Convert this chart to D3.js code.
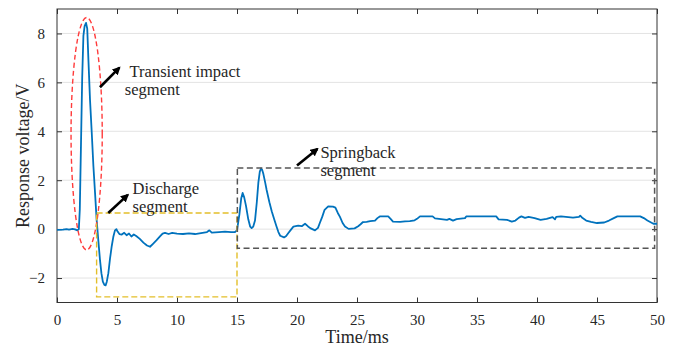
<!DOCTYPE html>
<html>
<head>
<meta charset="utf-8">
<script src="https://cdn.jsdelivr.net/npm/d3@7"></script>
<style>
  html, body { margin: 0; padding: 0; background: #fff; }
  svg { display: block; }
  svg text { font-family: "Liberation Serif", "DejaVu Serif", serif !important; fill: #262626; }
</style>
</head>
<body>
<svg id="chart" width="677" height="349"></svg>
<script>
// ---- data ----
const timeMs = [
  0, 0.5, 0.8, 1.0, 1.3, 1.5, 1.7, 1.82, 1.9, 2.0, 2.1, 2.2, 2.3, 2.42, 2.52, 2.62, 2.75, 2.9, 3.03, 3.18,
  3.3, 3.45, 3.58, 3.7, 3.82, 3.95, 4.05, 4.15, 4.28, 4.42, 4.56, 4.7, 4.83, 4.95, 5.05, 5.2, 5.4, 5.6, 5.8, 6.0,
  6.2, 6.4, 6.6, 6.9, 7.2, 7.5, 7.75, 8.0, 8.3, 8.58, 8.8, 9.0, 9.3, 9.6, 10.0, 10.5, 11.0, 11.5, 12.0, 12.5,
  12.7, 12.9, 13.5, 14.0, 14.5, 14.83, 15.0, 15.2, 15.35, 15.47, 15.6, 15.75, 15.94, 16.1, 16.22, 16.35, 16.5, 16.65, 16.78, 16.9,
  17.0, 17.1, 17.2, 17.35, 17.47, 17.7, 17.9, 18.1, 18.3, 18.45, 18.6, 18.92, 19.1, 19.28, 19.5, 19.7, 20.1, 20.4, 20.67, 20.9,
  21.1, 21.5, 21.75, 21.9, 22.1, 22.3, 22.6, 23.0, 23.2, 23.4, 23.58, 23.8, 24.0, 24.3, 24.8, 25.1, 25.3, 25.5, 25.8, 26.1,
  26.5, 26.7, 26.9, 27.6, 27.8, 28.0, 28.6, 29.0, 29.4, 29.8, 30.0, 30.25, 31.3, 31.5, 32.0, 32.5, 32.7, 33.0, 33.3, 34.0,
  34.1, 36.6, 36.8, 37.5, 37.9, 38.2, 38.5, 38.7, 39.0, 39.3, 39.8, 40.3, 40.8, 41.3, 41.5, 41.6, 42.0, 43.0, 43.5, 43.6,
  43.8, 44.1, 44.5, 45.0, 45.6, 46.0, 46.4, 46.7, 48.6, 48.9, 49.2, 49.7, 50.0
];
const voltage = [
  -0.03, -0.02, 0.0, -0.02, 0.01, -0.01, -0.05, 0.0, 0.8, 3.5, 6.2, 7.9, 8.3, 8.43, 8.2, 6.9, 5.3, 3.9, 2.6, 1.4,
  0.4, -0.5, -1.25, -1.8, -2.15, -2.28, -2.3, -2.15, -1.8, -1.2, -0.7, -0.3, -0.05, 0.0, -0.1, -0.2, -0.22, -0.15, -0.25, -0.18,
  -0.3, -0.22, -0.28, -0.4, -0.55, -0.67, -0.72, -0.6, -0.45, -0.3, -0.18, -0.15, -0.2, -0.15, -0.18, -0.2, -0.17, -0.2, -0.16, -0.12,
  -0.05, -0.14, -0.12, -0.1, -0.12, -0.12, -0.05, 0.6, 1.25, 1.48, 1.3, 0.95, 0.4, 0.1, 0.04, 0.1, 0.35, 1.1, 1.9, 2.35,
  2.48, 2.42, 2.25, 1.9, 1.6, 1.1, 0.72, 0.4, 0.1, -0.12, -0.27, -0.34, -0.28, -0.16, -0.02, 0.1, 0.14, 0.12, 0.22, 0.12,
  0.04, -0.05, 0.05, 0.25, 0.5, 0.79, 0.93, 0.92, 0.88, 0.66, 0.5, 0.25, 0.11, 0.01, 0.03, 0.12, 0.2, 0.29, 0.3, 0.33,
  0.35, 0.45, 0.52, 0.52, 0.42, 0.31, 0.3, 0.32, 0.33, 0.36, 0.42, 0.52, 0.52, 0.44, 0.41, 0.38, 0.42, 0.35, 0.41, 0.45,
  0.52, 0.52, 0.4, 0.38, 0.31, 0.35, 0.47, 0.52, 0.46, 0.5, 0.45, 0.38, 0.42, 0.49, 0.4, 0.5, 0.52, 0.47, 0.5, 0.55,
  0.45, 0.35, 0.3, 0.25, 0.27, 0.35, 0.45, 0.52, 0.52, 0.45, 0.35, 0.22, 0.22
];
const xTicks = [0, 5, 10, 15, 20, 25, 30, 35, 40, 45, 50];
const yTicks = [-2, 0, 2, 4, 6, 8];
const xLabel = "Time/ms";
const yLabel = "Response voltage/V";
const annotationLabels = [["Transient impact", "segment"], ["Discharge", "segment"], ["Springback", "segment"]];

// ---- layout ----
const W = 677, H = 349;
const FONT = "Liberation Serif, DejaVu Serif, serif";
const m = {left: 57, right: 20, top: 9, bottom: 46.5};
const svg = d3.select("#chart").attr("font-family", FONT);
const x = d3.scaleLinear().domain([0, 50]).range([m.left, W - m.right]);
const y = d3.scaleLinear().domain([-3, 9]).range([H - m.bottom, m.top]);

const defs = svg.append("defs");
defs.append("clipPath").attr("id", "plotclip").append("rect")
  .attr("x", m.left).attr("y", m.top).attr("width", x(50) - x(0)).attr("height", y(-3) - y(9));
defs.append("marker").attr("id", "arrowhead").attr("viewBox", "0 0 10 10")
  .attr("refX", 8).attr("refY", 5).attr("markerWidth", 3.2).attr("markerHeight", 3.2)
  .attr("orient", "auto").attr("markerUnits", "strokeWidth")
  .append("path").attr("d", "M0,0 L10,5 L0,10 z").attr("fill", "#000");

// grid (horizontal only)
svg.append("g").selectAll("line").data(yTicks).join("line")
  .attr("x1", x(0)).attr("x2", x(50))
  .attr("y1", d => y(d)).attr("y2", d => y(d))
  .attr("stroke", "#e3e3e3").attr("stroke-width", 1);

// axes
const axisColor = "#333";
function styleAxis(g, labels) {
  g.attr("font-family", FONT).attr("font-size", 15);
  g.select(".domain").remove();
  g.selectAll(".tick line").attr("stroke", axisColor);
  g.selectAll(".tick text").attr("font-family", FONT).style("font-size", "15px").attr("fill", "#262626");
  if (!labels) g.selectAll(".tick text").remove();
}
svg.append("g").attr("transform", `translate(0,${y(-3)})`)
  .call(d3.axisBottom(x).tickValues(xTicks).tickSizeInner(-5).tickSizeOuter(0).tickPadding(12).tickFormat(d3.format("d")))
  .call(g => styleAxis(g, true));
svg.append("g").attr("transform", `translate(0,${y(9)})`)
  .call(d3.axisTop(x).tickValues(xTicks).tickSizeInner(-5).tickSizeOuter(0))
  .call(g => styleAxis(g, false));
svg.append("g").attr("transform", `translate(${x(0)},0)`)
  .call(d3.axisLeft(y).tickValues(yTicks).tickSizeInner(-5).tickSizeOuter(0).tickPadding(12).tickFormat(d3.format("d")))
  .call(g => styleAxis(g, true));
svg.append("g").attr("transform", `translate(${x(50)},0)`)
  .call(d3.axisRight(y).tickValues(yTicks).tickSizeInner(-5).tickSizeOuter(0))
  .call(g => styleAxis(g, false));
// box
svg.append("rect").attr("x", x(0)).attr("y", y(9)).attr("width", x(50) - x(0)).attr("height", y(-3) - y(9))
  .attr("fill", "none").attr("stroke", axisColor).attr("stroke-width", 1);

// data line
const pts = timeMs.map((t, i) => [t, voltage[i]]);
svg.append("path").datum(pts)
  .attr("clip-path", "url(#plotclip)")
  .attr("fill", "none").attr("stroke", "#0072BD").attr("stroke-width", 1.8).attr("stroke-linejoin", "round")
  .attr("d", d3.line().x(d => x(d[0])).y(d => y(d[1])));

// annotation shapes (in data coordinates)
const ann = svg.append("g").attr("clip-path", "url(#plotclip)");
ann.append("ellipse")
  .attr("cx", x(2.47)).attr("cy", y(3.9))
  .attr("rx", x(2.47 + 1.3) - x(2.47)).attr("ry", y(3.9 - 4.75) - y(3.9))
  .attr("fill", "none").attr("stroke", "#ff3b3b").attr("stroke-width", 1.4).attr("stroke-dasharray", "5,3");
ann.append("rect")
  .attr("x", x(3.3)).attr("y", y(0.66)).attr("width", x(15) - x(3.3)).attr("height", y(-2.77) - y(0.66))
  .attr("fill", "none").attr("stroke", "#e3bf2a").attr("stroke-width", 1.4).attr("stroke-dasharray", "6,3");
ann.append("rect")
  .attr("x", x(15.03)).attr("y", y(2.5)).attr("width", x(49.8) - x(15.03)).attr("height", y(-0.78) - y(2.5))
  .attr("fill", "none").attr("stroke", "#555").attr("stroke-width", 1.5).attr("stroke-dasharray", "6,3.5");

// arrows and labels
const arrows = [
  {from: [3.58, 5.8], to: [5.2, 6.6], text: [6.05, 6.2], dy: 18, dx2: -0.4},
  {from: [4.27, 0.66], to: [5.9, 1.4], text: [6.3, 1.45], dy: 18.5, dx2: 0},
  {from: [20.0, 2.6], to: [21.7, 3.28], text: [21.95, 2.9], dy: 17.5, dx2: 0}
];
arrows.forEach((a, i) => {
  svg.append("line")
    .attr("x1", x(a.from[0])).attr("y1", y(a.from[1]))
    .attr("x2", x(a.to[0])).attr("y2", y(a.to[1]))
    .attr("stroke", "#000").attr("stroke-width", 2.6).attr("marker-end", "url(#arrowhead)");
  const t = svg.append("text").attr("font-family", FONT).style("font-size", "16.5px").attr("fill", "#262626");
  t.append("tspan").attr("x", x(a.text[0])).attr("y", y(a.text[1])).text(annotationLabels[i][0]);
  t.append("tspan").attr("x", x(a.text[0] + a.dx2)).attr("y", y(a.text[1]) + a.dy).text(annotationLabels[i][1]);
});

// axis titles
svg.append("text").attr("x", (x(0) + x(50)) / 2).attr("y", 343).attr("font-family", FONT)
  .attr("text-anchor", "middle").style("font-size", "18px").text(xLabel);
svg.append("text").attr("transform", `translate(23,${y(3)}) rotate(-90)`).attr("font-family", FONT)
  .attr("text-anchor", "middle").attr("dy", "0.35em").style("font-size", "18px").text(yLabel);
</script>
</body>
</html>
